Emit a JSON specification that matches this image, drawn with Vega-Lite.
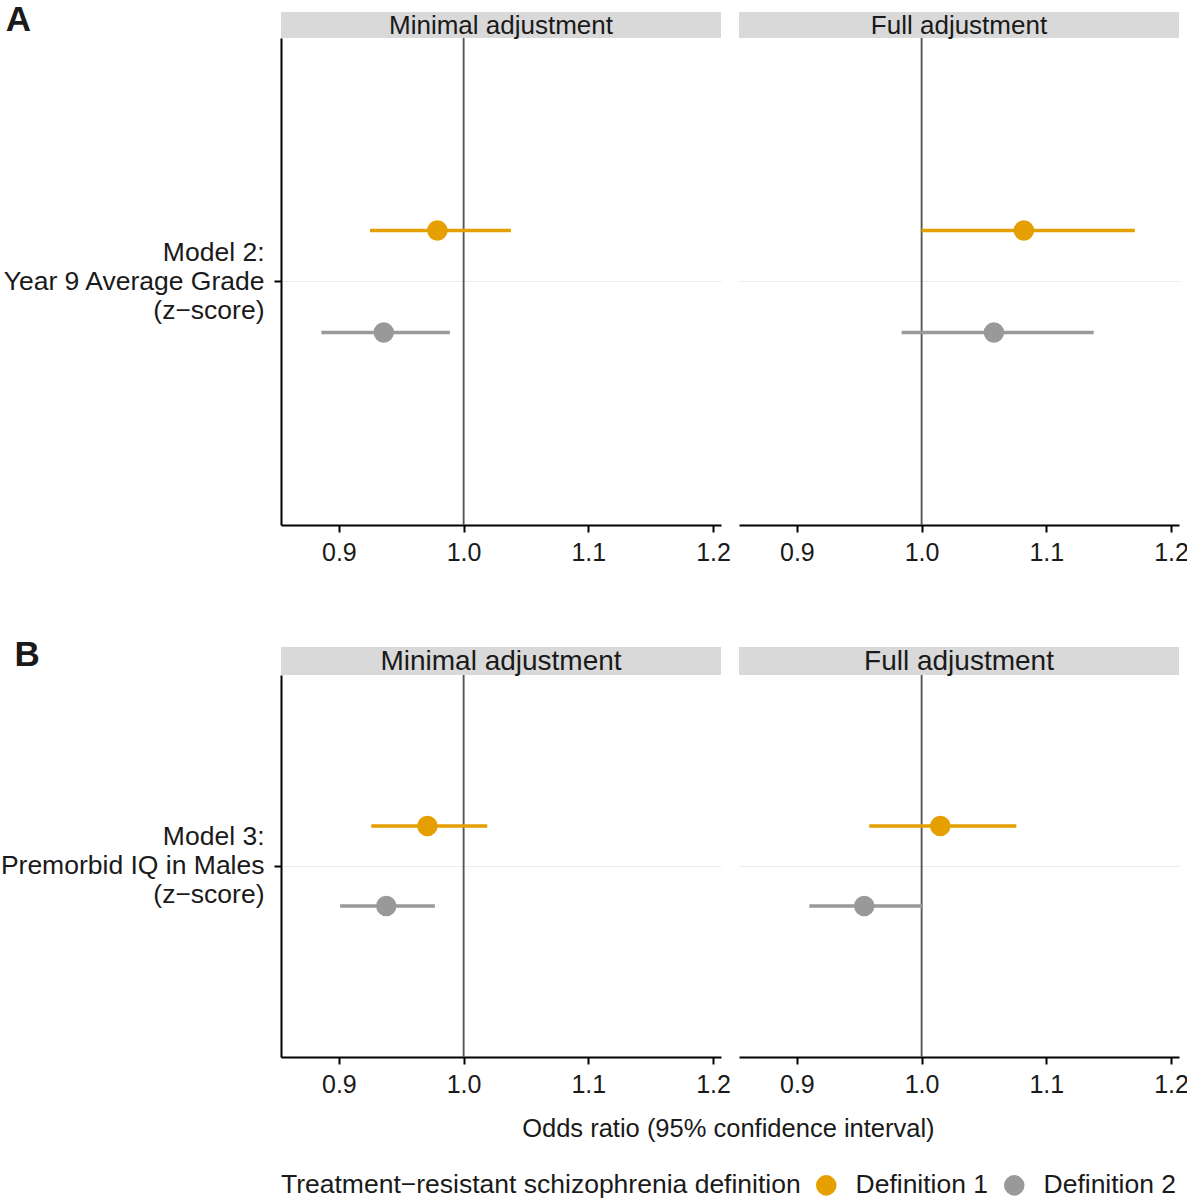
{
  "$schema": "https://vega.github.io/schema/vega-lite/v6.json",
  "background": "white",
  "padding": {"left": 0, "top": 3, "right": 6, "bottom": 0},
  "datasets": {
    "est": [
      {"panel": "A", "adj": "Minimal adjustment", "model": "Model 2:|Year 9 Average Grade|(z−score)", "def": "Definition 1", "or": 0.979, "lo": 0.925, "hi": 1.038},
      {"panel": "A", "adj": "Minimal adjustment", "model": "Model 2:|Year 9 Average Grade|(z−score)", "def": "Definition 2", "or": 0.936, "lo": 0.886, "hi": 0.989},
      {"panel": "A", "adj": "Full adjustment", "model": "Model 2:|Year 9 Average Grade|(z−score)", "def": "Definition 1", "or": 1.082, "lo": 1.000, "hi": 1.171},
      {"panel": "A", "adj": "Full adjustment", "model": "Model 2:|Year 9 Average Grade|(z−score)", "def": "Definition 2", "or": 1.058, "lo": 0.984, "hi": 1.138},
      {"panel": "B", "adj": "Minimal adjustment", "model": "Model 3:|Premorbid IQ in Males|(z−score)", "def": "Definition 1", "or": 0.971, "lo": 0.926, "hi": 1.019},
      {"panel": "B", "adj": "Minimal adjustment", "model": "Model 3:|Premorbid IQ in Males|(z−score)", "def": "Definition 2", "or": 0.938, "lo": 0.901, "hi": 0.977},
      {"panel": "B", "adj": "Full adjustment", "model": "Model 3:|Premorbid IQ in Males|(z−score)", "def": "Definition 1", "or": 1.015, "lo": 0.958, "hi": 1.076},
      {"panel": "B", "adj": "Full adjustment", "model": "Model 3:|Premorbid IQ in Males|(z−score)", "def": "Definition 2", "or": 0.954, "lo": 0.910, "hi": 1.001}
    ],
    "strips": [
      {"panel": "A", "adj": "Minimal adjustment"},
      {"panel": "A", "adj": "Full adjustment"},
      {"panel": "B", "adj": "Minimal adjustment"},
      {"panel": "B", "adj": "Full adjustment"}
    ]
  },
  "config": {
    "font": "Liberation Sans",
    "view": {"stroke": null},
    "axis": {"labelFont": "Liberation Sans", "titleFont": "Liberation Sans"},
    "legend": {
      "orient": "bottom",
      "direction": "horizontal",
      "titleOrient": "left",
      "titleFontSize": 26.5,
      "titleFontWeight": "normal",
      "titleColor": "#1a1a1a",
      "titleLimit": 1000,
      "labelLimit": 400,
      "labelFontSize": 26.5,
      "labelColor": "#1a1a1a",
      "symbolType": "circle",
      "symbolSize": 420,
      "symbolStrokeWidth": 0,
      "symbolOpacity": 1,
      "columnPadding": 12,
      "titlePadding": 12,
      "labelOffset": 16,
      "offset": 29
    }
  },
  "resolve": {"scale": {"color": "shared", "x": "independent", "y": "independent", "yOffset": "independent"}, "legend": {"color": "shared"}},
  "spacing": 73,
  "vconcat": [
    {
      "title": {"text": "A", "anchor": "start", "fontSize": 35, "fontWeight": "bold", "color": "#1a1a1a", "offset": -26, "dx": 4},
      "resolve": {"scale": {"color": "shared", "x": "independent", "y": "independent", "yOffset": "independent"}, "legend": {"color": "shared"}},
      "spacing": 8,
      "hconcat": [
        {
          "resolve": {"scale": {"color": "shared", "x": "independent", "y": "independent", "yOffset": "independent"}, "legend": {"color": "shared"}},
          "bounds": "flush",
          "spacing": 0,
          "vconcat": [
            {
              "width": 440, "height": 26,
              "data": {"name": "strips"},
              "transform": [{"filter": "datum.panel == 'A' && datum.adj == 'Minimal adjustment'"}],
              "layer": [
                {"mark": {"type": "rect", "color": "#D9D9D9"}, "encoding": {}},
                {"mark": {"type": "text", "fontSize": 26, "color": "#1a1a1a", "baseline": "middle", "dy": 1}, "encoding": {"text": {"field": "adj"}}}
              ]
            },
            {
              "width": 440, "height": 487,
              "data": {"name": "est"},
              "transform": [{"filter": "datum.panel == 'A' && datum.adj == 'Minimal adjustment'"}],
              "encoding": {
                "y": {"field": "model", "type": "nominal", "title": null, "scale": {"paddingInner": 0, "paddingOuter": 0.096},
                  "axis": {"labelExpr": "split(datum.label, '|')", "labelFontSize": 26.5, "labelLineHeight": 29, "labelOffset": -29, "labelColor": "#1a1a1a", "labelLimit": 400, "domainColor": "#000000", "domainWidth": 2, "tickColor": "#000000", "tickWidth": 2, "tickSize": 7, "labelPadding": 10, "grid": true, "gridColor": "#EBEBEB", "gridWidth": 1, "bandPosition": 0.5}},
                "yOffset": {"field": "def", "type": "nominal", "scale": {"domain": ["Definition 1", "Definition 2"], "paddingInner": 0, "paddingOuter": 1}}
              },
              "layer": [
                {"mark": {"type": "rule", "color": "#555555", "strokeWidth": 1.5}, "encoding": {"x": {"datum": 1, "type": "quantitative"}, "y": null, "yOffset": null}},
                {"mark": {"type": "rule", "strokeWidth": 3.5}, "encoding": {
                  "x": {"field": "lo", "type": "quantitative", "title": null, "scale": {"domain": [0.8536, 1.2064], "nice": false, "zero": false},
                    "axis": {"values": [0.9, 1.0, 1.1, 1.2], "format": ".1f", "labelFontSize": 25, "labelColor": "#1a1a1a", "labelFlush": false, "grid": false, "domainColor": "#000000", "domainWidth": 2, "tickColor": "#000000", "tickWidth": 2, "tickSize": 7, "labelPadding": 8}},
                  "x2": {"field": "hi"},
                  "color": {"field": "def", "type": "nominal", "title": "Treatment−resistant schizophrenia definition", "scale": {"domain": ["Definition 1", "Definition 2"], "range": ["#E69F00", "#999999"]}}
                }},
                {"mark": {"type": "circle", "size": 420, "opacity": 1}, "encoding": {
                  "x": {"field": "or", "type": "quantitative"},
                  "color": {"field": "def", "type": "nominal"}
                }}
              ]
            }
          ]
        },
        {
          "resolve": {"scale": {"color": "shared", "x": "independent", "y": "independent", "yOffset": "independent"}, "legend": {"color": "shared"}},
          "bounds": "flush",
          "spacing": 0,
          "vconcat": [
            {
              "width": 440, "height": 26,
              "data": {"name": "strips"},
              "transform": [{"filter": "datum.panel == 'A' && datum.adj == 'Full adjustment'"}],
              "layer": [
                {"mark": {"type": "rect", "color": "#D9D9D9"}, "encoding": {}},
                {"mark": {"type": "text", "fontSize": 26, "color": "#1a1a1a", "baseline": "middle", "dy": 1}, "encoding": {"text": {"field": "adj"}}}
              ]
            },
            {
              "width": 440, "height": 487,
              "data": {"name": "est"},
              "transform": [{"filter": "datum.panel == 'A' && datum.adj == 'Full adjustment'"}],
              "encoding": {
                "y": {"field": "model", "type": "nominal", "title": null, "scale": {"paddingInner": 0, "paddingOuter": 0.096},
                  "axis": {"labels": false, "ticks": false, "domain": false, "grid": true, "gridColor": "#EBEBEB", "gridWidth": 1, "bandPosition": 0.5}},
                "yOffset": {"field": "def", "type": "nominal", "scale": {"domain": ["Definition 1", "Definition 2"], "paddingInner": 0, "paddingOuter": 1}}
              },
              "layer": [
                {"mark": {"type": "rule", "color": "#555555", "strokeWidth": 1.5}, "encoding": {"x": {"datum": 1, "type": "quantitative"}, "y": null, "yOffset": null}},
                {"mark": {"type": "rule", "strokeWidth": 3.5}, "encoding": {
                  "x": {"field": "lo", "type": "quantitative", "title": null, "scale": {"domain": [0.8536, 1.2064], "nice": false, "zero": false},
                    "axis": {"values": [0.9, 1.0, 1.1, 1.2], "format": ".1f", "labelFontSize": 25, "labelColor": "#1a1a1a", "labelFlush": false, "grid": false, "domainColor": "#000000", "domainWidth": 2, "tickColor": "#000000", "tickWidth": 2, "tickSize": 7, "labelPadding": 8}},
                  "x2": {"field": "hi"},
                  "color": {"field": "def", "type": "nominal", "title": "Treatment−resistant schizophrenia definition", "scale": {"domain": ["Definition 1", "Definition 2"], "range": ["#E69F00", "#999999"]}}
                }},
                {"mark": {"type": "circle", "size": 420, "opacity": 1}, "encoding": {
                  "x": {"field": "or", "type": "quantitative"},
                  "color": {"field": "def", "type": "nominal"}
                }}
              ]
            }
          ]
        }
      ]
    },
    {
      "title": {"text": "Odds ratio (95% confidence interval)", "orient": "bottom", "anchor": "middle", "fontSize": 25.5, "fontWeight": "normal", "color": "#1a1a1a", "offset": 20, "dx": 134},
      "resolve": {"scale": {"color": "shared", "x": "independent", "y": "independent", "yOffset": "independent"}, "legend": {"color": "shared"}},
      "vconcat": [
        {
          "title": {"text": "B", "anchor": "start", "fontSize": 35, "fontWeight": "bold", "color": "#1a1a1a", "offset": -26, "dx": 14},
          "resolve": {"scale": {"color": "shared", "x": "independent", "y": "independent", "yOffset": "independent"}, "legend": {"color": "shared"}},
          "spacing": 8,
          "hconcat": [
            {
              "resolve": {"scale": {"color": "shared", "x": "independent", "y": "independent", "yOffset": "independent"}, "legend": {"color": "shared"}},
              "bounds": "flush",
              "spacing": 0,
              "vconcat": [
                {
                  "width": 440, "height": 28,
                  "data": {"name": "strips"},
                  "transform": [{"filter": "datum.panel == 'B' && datum.adj == 'Minimal adjustment'"}],
                  "layer": [
                    {"mark": {"type": "rect", "color": "#D9D9D9"}, "encoding": {}},
                    {"mark": {"type": "text", "fontSize": 28, "color": "#1a1a1a", "baseline": "middle", "dy": 1}, "encoding": {"text": {"field": "adj"}}}
                  ]
                },
                {
                  "width": 440, "height": 382,
                  "data": {"name": "est"},
                  "transform": [{"filter": "datum.panel == 'B' && datum.adj == 'Minimal adjustment'"}],
                  "encoding": {
                    "y": {"field": "model", "type": "nominal", "title": null, "scale": {"paddingInner": 0, "paddingOuter": 0.097},
                      "axis": {"labelExpr": "split(datum.label, '|')", "labelFontSize": 26.5, "labelLineHeight": 29, "labelOffset": -29, "labelColor": "#1a1a1a", "labelLimit": 400, "domainColor": "#000000", "domainWidth": 2, "tickColor": "#000000", "tickWidth": 2, "tickSize": 7, "labelPadding": 10, "grid": true, "gridColor": "#EBEBEB", "gridWidth": 1, "bandPosition": 0.5}},
                    "yOffset": {"field": "def", "type": "nominal", "scale": {"domain": ["Definition 1", "Definition 2"], "paddingInner": 0, "paddingOuter": 1}}
                  },
                  "layer": [
                    {"mark": {"type": "rule", "color": "#555555", "strokeWidth": 1.5}, "encoding": {"x": {"datum": 1, "type": "quantitative"}, "y": null, "yOffset": null}},
                    {"mark": {"type": "rule", "strokeWidth": 3.5}, "encoding": {
                      "x": {"field": "lo", "type": "quantitative", "title": null, "scale": {"domain": [0.8536, 1.2064], "nice": false, "zero": false},
                        "axis": {"values": [0.9, 1.0, 1.1, 1.2], "format": ".1f", "labelFontSize": 25, "labelColor": "#1a1a1a", "labelFlush": false, "grid": false, "domainColor": "#000000", "domainWidth": 2, "tickColor": "#000000", "tickWidth": 2, "tickSize": 7, "labelPadding": 8}},
                      "x2": {"field": "hi"},
                      "color": {"field": "def", "type": "nominal", "title": "Treatment−resistant schizophrenia definition", "scale": {"domain": ["Definition 1", "Definition 2"], "range": ["#E69F00", "#999999"]}}
                    }},
                    {"mark": {"type": "circle", "size": 420, "opacity": 1}, "encoding": {
                      "x": {"field": "or", "type": "quantitative"},
                      "color": {"field": "def", "type": "nominal"}
                    }}
                  ]
                }
              ]
            },
            {
              "resolve": {"scale": {"color": "shared", "x": "independent", "y": "independent", "yOffset": "independent"}, "legend": {"color": "shared"}},
              "bounds": "flush",
              "spacing": 0,
              "vconcat": [
                {
                  "width": 440, "height": 28,
                  "data": {"name": "strips"},
                  "transform": [{"filter": "datum.panel == 'B' && datum.adj == 'Full adjustment'"}],
                  "layer": [
                    {"mark": {"type": "rect", "color": "#D9D9D9"}, "encoding": {}},
                    {"mark": {"type": "text", "fontSize": 28, "color": "#1a1a1a", "baseline": "middle", "dy": 1}, "encoding": {"text": {"field": "adj"}}}
                  ]
                },
                {
                  "width": 440, "height": 382,
                  "data": {"name": "est"},
                  "transform": [{"filter": "datum.panel == 'B' && datum.adj == 'Full adjustment'"}],
                  "encoding": {
                    "y": {"field": "model", "type": "nominal", "title": null, "scale": {"paddingInner": 0, "paddingOuter": 0.097},
                      "axis": {"labels": false, "ticks": false, "domain": false, "grid": true, "gridColor": "#EBEBEB", "gridWidth": 1, "bandPosition": 0.5}},
                    "yOffset": {"field": "def", "type": "nominal", "scale": {"domain": ["Definition 1", "Definition 2"], "paddingInner": 0, "paddingOuter": 1}}
                  },
                  "layer": [
                    {"mark": {"type": "rule", "color": "#555555", "strokeWidth": 1.5}, "encoding": {"x": {"datum": 1, "type": "quantitative"}, "y": null, "yOffset": null}},
                    {"mark": {"type": "rule", "strokeWidth": 3.5}, "encoding": {
                      "x": {"field": "lo", "type": "quantitative", "title": null, "scale": {"domain": [0.8536, 1.2064], "nice": false, "zero": false},
                        "axis": {"values": [0.9, 1.0, 1.1, 1.2], "format": ".1f", "labelFontSize": 25, "labelColor": "#1a1a1a", "labelFlush": false, "grid": false, "domainColor": "#000000", "domainWidth": 2, "tickColor": "#000000", "tickWidth": 2, "tickSize": 7, "labelPadding": 8}},
                      "x2": {"field": "hi"},
                      "color": {"field": "def", "type": "nominal", "title": "Treatment−resistant schizophrenia definition", "scale": {"domain": ["Definition 1", "Definition 2"], "range": ["#E69F00", "#999999"]}}
                    }},
                    {"mark": {"type": "circle", "size": 420, "opacity": 1}, "encoding": {
                      "x": {"field": "or", "type": "quantitative"},
                      "color": {"field": "def", "type": "nominal"}
                    }}
                  ]
                }
              ]
            }
          ]
        }
      ]
    }
  ]
}
